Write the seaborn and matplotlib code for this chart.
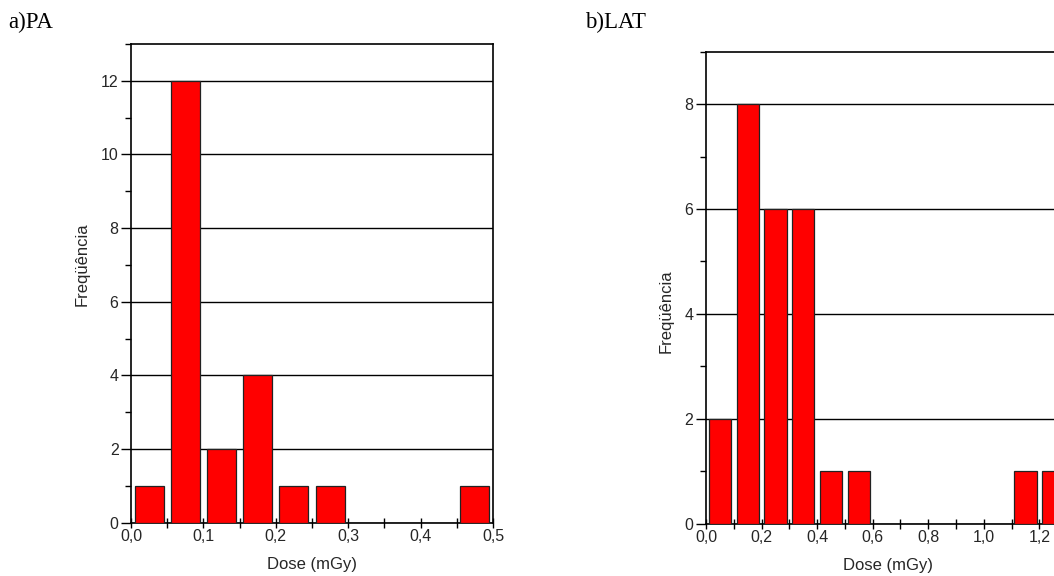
import numpy as np
import pandas as pd
import matplotlib
matplotlib.use("Agg")
import matplotlib.pyplot as plt
from matplotlib.ticker import MultipleLocator, FuncFormatter
import seaborn as sns

# ---- data ----
pa_bin_starts = [0.00, 0.05, 0.10, 0.15, 0.20, 0.25, 0.30, 0.35, 0.40, 0.45]
pa_counts = [1, 12, 2, 4, 1, 1, 0, 0, 0, 1]
pa_bin_width = 0.05

lat_bin_starts = [0.0, 0.1, 0.2, 0.3, 0.4, 0.5, 0.6, 0.7, 0.8, 0.9, 1.0, 1.1, 1.2]
lat_counts = [2, 8, 6, 6, 1, 1, 0, 0, 0, 0, 0, 1, 1]
lat_bin_width = 0.1

panel_titles = ["a)PA", "b)LAT"]
xlabel = "Dose (mGy)"
ylabel = "Freqüência"

sns.set_theme(style="white")
plt.rcParams['font.family'] = ['Liberation Sans', 'DejaVu Sans']

fig = plt.figure(figsize=(10.54, 5.76), dpi=100)
ax1 = fig.add_axes([0.1243, 0.0925, 0.3435, 0.8311])
ax2 = fig.add_axes([0.6698, 0.0908, 0.3691, 0.8194])

comma = FuncFormatter(lambda v, p: f"{v:.1f}".replace(".", ","))
intfmt = FuncFormatter(lambda v, p: f"{int(round(v))}")


def panel(ax, starts, counts, bw, xmax, ymax, xmajor, xminor, ylab_pos, xlab_pos):
    df = pd.DataFrame({"x": np.array(starts) + bw / 2, "w": counts})
    edges = list(starts) + [starts[-1] + bw]
    ax.yaxis.grid(True, color="black", linewidth=1.0, zorder=0)
    ax.set_axisbelow(True)
    sns.histplot(data=df, x="x", weights="w", bins=edges, shrink=0.8,
                 color="#ff0000", alpha=1.0, edgecolor="#222222",
                 linewidth=0.9, ax=ax, zorder=3)
    ax.set_xlim(0, xmax)
    ax.set_ylim(0, ymax)
    for s in ax.spines.values():
        s.set_color("black")
        s.set_linewidth(1.2)
    ax.yaxis.set_major_locator(MultipleLocator(2))
    ax.yaxis.set_minor_locator(MultipleLocator(1))
    ax.xaxis.set_major_locator(MultipleLocator(xmajor))
    ax.xaxis.set_minor_locator(MultipleLocator(xminor))
    ax.xaxis.set_major_formatter(comma)
    ax.yaxis.set_major_formatter(intfmt)
    ax.tick_params(axis="y", which="major", direction="out", length=7,
                   width=1, color="black", labelsize=11.5, left=True, pad=2)
    ax.tick_params(axis="y", which="minor", direction="out", length=4,
                   width=1, color="black", left=True)
    ax.tick_params(axis="x", which="both", direction="inout", length=7,
                   width=1, color="black", labelsize=11.5, bottom=True, pad=1)
    ax.set_xlabel(xlabel, fontsize=12)
    ax.set_ylabel(ylabel, fontsize=12)
    ax.yaxis.set_label_coords(*ylab_pos)
    ax.xaxis.set_label_coords(*xlab_pos)


panel(ax1, pa_bin_starts, pa_counts, pa_bin_width, 0.5, 13, 0.1, 0.05,
      (-0.113, 0.54), (0.5, -0.072))
panel(ax2, lat_bin_starts, lat_counts, lat_bin_width, 1.4, 9, 0.2, 0.1,
      (-0.082, 0.45), (0.468, -0.072))

fig.text(0.008, 0.952, panel_titles[0], fontsize=16.5, family="Liberation Serif",
         ha="left", va="baseline", color="black")
fig.text(0.555, 0.952, panel_titles[1], fontsize=16.5, family="Liberation Serif",
         ha="left", va="baseline", color="black")

fig.savefig("out.png", dpi=100)
